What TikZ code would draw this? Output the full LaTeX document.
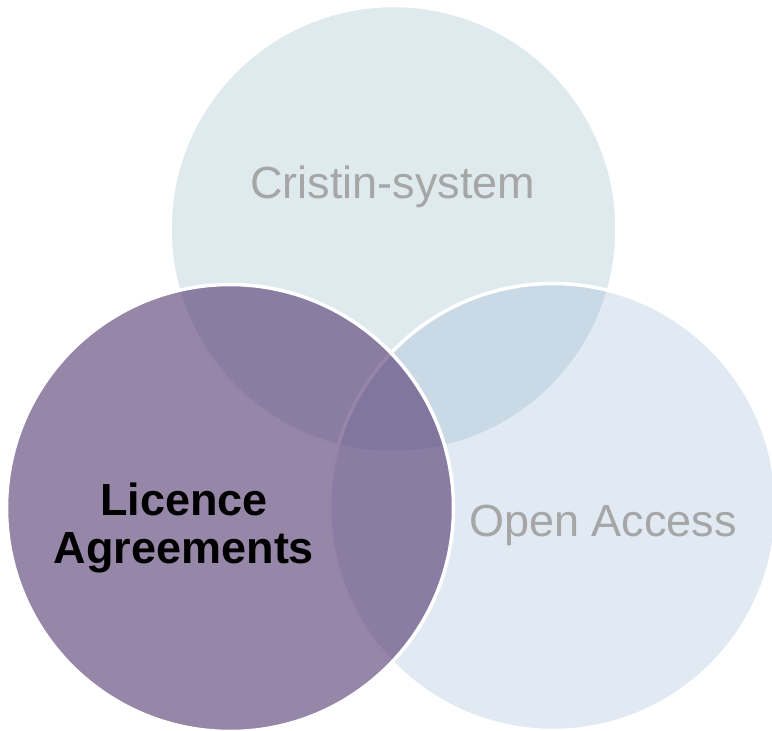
\documentclass[tikz,border=0pt]{standalone}
\usepackage{fontspec}
\setmainfont{Liberation Sans}
\definecolor{topfill}{RGB}{223,234,238}
\definecolor{rightfill}{RGB}{136,168,208}
\definecolor{leftfill}{RGB}{80,53,110}
\definecolor{labelgray}{RGB}{166,166,166}
\tikzset{
  venn/.style={circle, inner sep=0pt, minimum size=447pt, draw=white, line width=3.5pt},
  graylabel/.style={text=labelgray, font=\fontsize{45}{48}\selectfont, inner sep=0pt, anchor=base},
  darklabel/.style={text=black, font=\fontsize{45}{48}\selectfont\bfseries, inner sep=0pt, anchor=base}
}
\begin{document}
\begin{tikzpicture}[x=1pt,y=-1pt]
\useasboundingbox (0,0) rectangle (772,731);
\clip (0,0) rectangle (772,731);
\node[venn, fill=topfill] (cristin) at (393.5,229) {};
\node[venn, fill=rightfill, fill opacity=0.25] (oa) at (553,507) {};
\node[venn, fill=leftfill, fill opacity=0.6] (licence) at (230,508) {};
\node[graylabel] (t1) at (393,198.5) {Cristin-system};
\node[graylabel] (t2) at (603,536.7) {Open Access};
\node[darklabel] (t3) at (184,515.5) {Licence};
\node[darklabel] (t4) at (184,563.5) {Agreements};
\end{tikzpicture}
\end{document}
